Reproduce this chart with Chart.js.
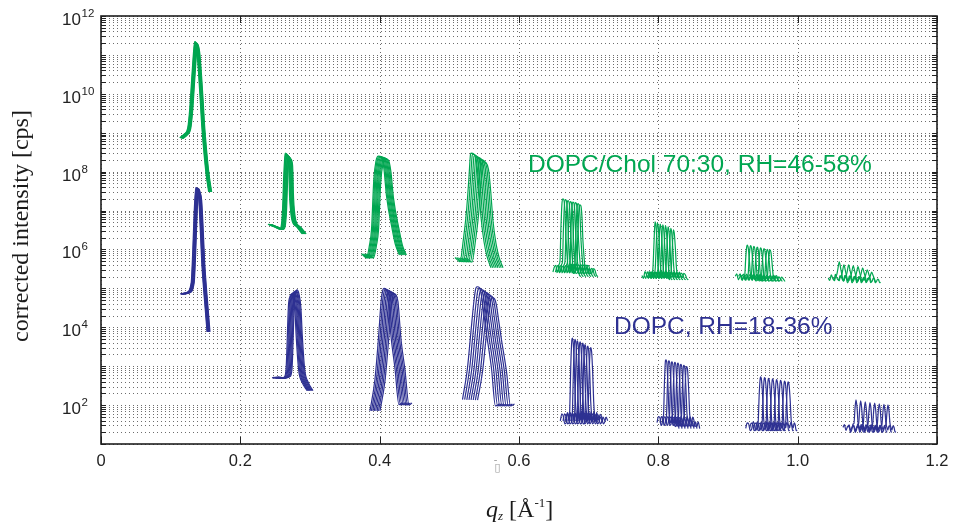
<!DOCTYPE html>
<html>
<head>
<meta charset="utf-8">
<script src="https://cdn.jsdelivr.net/npm/chart.js@4.4.1/dist/chart.umd.min.js"></script>
<style>
  html, body { margin: 0; padding: 0; background: #fff; }
  canvas { display: block; }
</style>
</head>
<body>
<canvas id="c" width="959" height="525"></canvas>
<script>
// Specular Bragg peaks, orders 1..8, one curve per humidity step.
// Each peak group: centre q of every curve, its peak intensity, and the
// line shape around the centre as [dq, intensity] pairs.

const xTickValues = [0, 0.2, 0.4, 0.6, 0.8, 1, 1.2];
const yLabelExponents = [2, 4, 6, 8, 10, 12];

// DOPC/Chol 70:30, RH = 46-58 %
const cholCenters = [
  [0.1345, 0.1351, 0.1357, 0.1363, 0.1369, 0.1375, 0.1381, 0.1387],
  [0.2644, 0.2652, 0.2660, 0.2668, 0.2677, 0.2685, 0.2693, 0.2701],
  [0.3983, 0.3997, 0.4011, 0.4026, 0.4040, 0.4054, 0.4069, 0.4083],
  [0.5311, 0.5335, 0.5360, 0.5385, 0.5409, 0.5434, 0.5458, 0.5483],
  [0.6631, 0.6667, 0.6703, 0.6739, 0.6775, 0.6811, 0.6847, 0.6875],
  [0.7952, 0.7985, 0.8024, 0.8062, 0.8100, 0.8138, 0.8177, 0.8215],
  [0.9277, 0.9325, 0.9372, 0.9420, 0.9469, 0.9517, 0.9564, 0.9603],
  [1.0597, 1.0664, 1.0732, 1.0798, 1.0866, 1.0933, 1.0999, 1.1062]
];
const cholTops = [
  [2.2e11, 2.2e11, 2.1e11, 2.1e11, 2.0e11, 2.0e11, 1.9e11, 1.9e11],
  [3.0e8, 2.95e8, 2.9e8, 2.8e8, 2.7e8, 2.6e8, 2.5e8, 2.4e8],
  [2.5e8, 2.45e8, 2.4e8, 2.35e8, 2.3e8, 2.25e8, 2.2e8, 2.1e8],
  [3.0e8, 2.8e8, 2.6e8, 2.4e8, 2.3e8, 2.1e8, 2.0e8, 1.8e8],
  [2.0e7, 1.9e7, 1.8e7, 1.7e7, 1.65e7, 1.6e7, 1.5e7, 1.4e7],
  [5.1e6, 4.8e6, 4.5e6, 4.3e6, 4.1e6, 3.8e6, 3.5e6, 3.2e6],
  [1.3e6, 1.25e6, 1.2e6, 1.15e6, 1.1e6, 1.05e6, 1.0e6, 9.7e5],
  [4.8e5, 4.0e5, 4.0e5, 3.8e5, 3.6e5, 3.35e5, 3.0e5, 2.6e5]
];
const cholShapes = [
  [[-0.0215,7.3e8],[-0.0144,9.3e8],[-0.0100,1.3e9],[-0.0072,3.8e9],[-0.0043,2.3e10],[-0.0014,1.3e11],[0,2.1e11],[0.0029,1.3e11],[0.0057,3.0e10],[0.0079,7.0e9],[0.0100,1.6e9],[0.0129,3.6e8],[0.0165,8.2e7],[0.0201,3.0e7]],
  [[-0.0248,4.4e6],[-0.0158,3.8e6],[-0.0080,3.3e6],[-0.0040,8.7e6],[-0.0023,6.1e7],[-0.0010,1.8e8],[0,2.85e8],[0.0022,2.5e8],[0.0049,1.7e8],[0.0063,2.3e7],[0.0096,5.7e6],[0.0158,3.9e6],[0.0244,2.5e6]],
  [[-0.0244,7.7e5],[-0.0172,6.1e5],[-0.0129,1.3e6],[-0.0100,3.2e6],[-0.0067,6.1e7],[-0.0036,1.8e8],[0,2.4e8],[0.0043,2.25e8],[0.0079,1.1e8],[0.0115,2.3e7],[0.0198,3.2e6],[0.0244,1.3e6],[0.0301,7.2e5]],
  [[-0.0230,6.1e5],[-0.0158,4.8e5],[-0.0108,1.8e6],[-0.0065,8.5e6],[-0.0029,6.1e7],[-0.0007,2.25e8],[0,2.4e8],[0.0043,2.25e8],[0.0079,1.5e8],[0.0108,4.5e7],[0.0144,6.0e6],[0.0187,1.5e6],[0.0230,6.5e5],[0.0287,3.4e5]],
  [[-0.0144,2.6e5],[-0.0122,3.5e5],[-0.0100,3.8e5],[-0.0086,2.5e5],[-0.0072,2.8e5],[-0.0057,4.0e5],[-0.0043,4.8e5],[-0.0029,3.2e6],[-0.0014,1.3e7],[0,1.66e7],[0.0014,1.55e7],[0.0029,7.8e6],[0.0043,1.8e6],[0.0065,4.8e5],[0.0079,2.8e5],[0.0086,3.0e5],[0.0108,4.0e5],[0.0129,3.8e5],[0.0150,2.4e5],[0.0172,2.5e5],[0.0194,3.3e5],[0.0215,3.0e5],[0.0236,2.2e5],[0.0258,2.0e5]],
  [[-0.0187,2.1e5],[-0.0165,1.8e5],[-0.0144,2.6e5],[-0.0122,2.2e5],[-0.0100,1.9e5],[-0.0086,2.6e5],[-0.0072,2.3e5],[-0.0057,1.8e5],[-0.0043,2.0e5],[-0.0029,3.2e5],[-0.0014,1.3e6],[0,4.0e6],[0.0014,3.2e6],[0.0029,1.3e6],[0.0043,4.0e5],[0.0057,2.3e5],[0.0072,2.0e5],[0.0086,2.7e5],[0.0108,2.2e5],[0.0129,1.9e5],[0.0150,2.5e5],[0.0172,2.3e5],[0.0194,1.8e5],[0.0215,1.65e5]],
  [[-0.0172,2.0e5],[-0.0150,2.3e5],[-0.0129,1.65e5],[-0.0108,1.9e5],[-0.0086,2.1e5],[-0.0072,1.6e5],[-0.0057,1.8e5],[-0.0036,2.2e5],[-0.0022,5.6e5],[-0.0007,1.05e6],[0,1.12e6],[0.0014,9.5e5],[0.0029,5.0e5],[0.0043,2.4e5],[0.0057,1.7e5],[0.0072,1.8e5],[0.0086,2.2e5],[0.0100,2.1e5],[0.0122,1.55e5],[0.0144,1.6e5],[0.0165,2.0e5],[0.0187,1.8e5],[0.0215,1.5e5]],
  [[-0.0158,1.74e5],[-0.0136,1.55e5],[-0.0115,2.0e5],[-0.0093,1.7e5],[-0.0072,1.6e5],[-0.0057,2.05e5],[-0.0043,1.9e5],[-0.0022,2.5e5],[0,3.6e5],[0.0022,2.6e5],[0.0043,1.86e5],[0.0057,1.5e5],[0.0072,1.6e5],[0.0086,1.95e5],[0.0100,1.8e5],[0.0115,1.4e5],[0.0129,1.45e5]]
];

// DOPC, RH = 18-36 %
const dopcCenters = [
  [0.1361, 0.1367, 0.1373, 0.1379, 0.1385, 0.1391, 0.1397, 0.1403],
  [0.2727, 0.2740, 0.2752, 0.2764, 0.2776, 0.2789, 0.2801, 0.2813],
  [0.4062, 0.4083, 0.4103, 0.4124, 0.4144, 0.4165, 0.4185, 0.4206],
  [0.5404, 0.5435, 0.5466, 0.5497, 0.5527, 0.5558, 0.5589, 0.5620],
  [0.6765, 0.6804, 0.6837, 0.6876, 0.6914, 0.6947, 0.6986, 0.7029],
  [0.8110, 0.8153, 0.8196, 0.8239, 0.8282, 0.8325, 0.8368, 0.8407],
  [0.9469, 0.9526, 0.9583, 0.9641, 0.9698, 0.9756, 0.9813, 0.9864],
  [1.0837, 1.0904, 1.0970, 1.1038, 1.1105, 1.1171, 1.1238, 1.1296]
];
const dopcTops = [
  [3.9e7, 3.9e7, 3.8e7, 3.8e7, 3.7e7, 3.7e7, 3.6e7, 3.6e7],
  [7.0e4, 7.3e4, 7.6e4, 7.9e4, 8.2e4, 8.5e4, 8.8e4, 9.1e4],
  [1.0e5, 9.6e4, 9.2e4, 8.8e4, 8.4e4, 8.0e4, 7.6e4, 7.2e4],
  [1.1e5, 1.0e5, 9.2e4, 8.5e4, 7.8e4, 7.1e4, 6.4e4, 5.7e4],
  [5.3e3, 4.9e3, 4.5e3, 4.2e3, 3.9e3, 3.6e3, 3.3e3, 3.0e3],
  [1.45e3, 1.38e3, 1.3e3, 1.25e3, 1.2e3, 1.12e3, 1.05e3, 9.7e2],
  [531, 510, 490, 470, 450, 430, 412, 395],
  [136, 128, 122, 116, 112, 108, 104, 101]
];
const dopcShapes = [
  [[-0.0224,7.2e4],[-0.0133,7.8e4],[-0.0066,1.4e5],[-0.0043,9.7e5],[-0.0022,1.0e7],[0,3.8e7],[0.0022,3.0e7],[0.0042,1.9e7],[0.0089,3.6e5],[0.0136,2.8e4],[0.0161,7.6e3]],
  [[-0.0273,521],[-0.0158,491],[-0.0100,531],[-0.0072,802],[-0.0036,4.2e4],[-0.0014,7.2e4],[0,8.1e4],[0.0029,6.4e4],[0.0057,2.8e4],[0.0076,5.8e3],[0.0111,802],[0.0158,394],[0.0230,236]],
  [[-0.0201,71],[-0.0129,444],[-0.0075,5.8e3],[-0.0040,4.1e4],[-0.0014,7.6e4],[0,8.1e4],[0.0029,7.6e4],[0.0057,5.0e4],[0.0098,5.8e3],[0.0158,802],[0.0215,101],[0.0258,114]],
  [[-0.0215,136],[-0.0144,802],[-0.0096,5.8e3],[-0.0047,4.1e4],[-0.0022,7.6e4],[0,8.1e4],[0.0029,7.6e4],[0.0057,5.0e4],[0.0086,2.1e4],[0.0129,5.8e3],[0.0201,802],[0.0258,95],[0.0316,107]],
  [[-0.0172,39],[-0.0150,58],[-0.0129,50],[-0.0107,33],[-0.0086,35],[-0.0072,62],[-0.0057,56],[-0.0043,40],[-0.0036,76],[-0.0022,800],[-0.0007,3.5e3],[0,4.0e3],[0.0014,3.0e3],[0.0029,800],[0.0043,135],[0.0057,56],[0.0072,38],[0.0086,68],[0.0100,45],[0.0115,42],[0.0136,60],[0.0158,52],[0.0180,33],[0.0201,37],[0.0222,50],[0.0244,40]],
  [[-0.0129,35],[-0.0108,50],[-0.0086,46],[-0.0072,30],[-0.0057,32],[-0.0043,48],[-0.0036,52],[-0.0022,355],[-0.0007,1.26e3],[0,1.3e3],[0.0014,1.0e3],[0.0029,280],[0.0043,63],[0.0057,40],[0.0072,35],[0.0086,52],[0.0100,45],[0.0122,30],[0.0144,28],[0.0165,38],[0.0187,25]],
  [[-0.0215,25],[-0.0194,34],[-0.0172,32],[-0.0150,22],[-0.0129,24],[-0.0108,36],[-0.0086,30],[-0.0072,22],[-0.0057,25],[-0.0036,35],[-0.0022,158],[-0.0007,417],[0,457],[0.0014,355],[0.0029,141],[0.0043,42],[0.0057,30],[0.0072,26],[0.0086,36],[0.0100,32],[0.0115,22],[0.0129,23]],
  [[-0.0187,26],[-0.0165,30],[-0.0144,22],[-0.0122,27],[-0.0100,28],[-0.0079,20],[-0.0057,24],[-0.0043,31],[-0.0029,32],[-0.0014,71],[0,112],[0.0014,79],[0.0029,35],[0.0043,27],[0.0057,23],[0.0072,30],[0.0086,28],[0.0100,21],[0.0115,20]]
];

const CHOL_COLOR = '#00a651';
const DOPC_COLOR = '#2e3192';

// Place one shape at a curve's centre; the part above the floor is
// raised or lowered (in log space) so the maximum lands on that curve's top.
function placeCurve(center, top, shape) {
  const lg = Math.log10;
  const vals = shape.map(p => p[1]);
  const floor = lg(Math.min(...vals));
  const ref = lg(Math.max(...vals));
  const lift = lg(top) - ref;
  return shape.map(([dq, v]) => {
    const w = (lg(v) - floor) / (ref - floor);
    return { x: center + dq, y: Math.pow(10, lg(v) + w * lift) };
  });
}

function seriesDatasets(centers, tops, shapes, color) {
  const out = [];
  centers.forEach((row, k) => {
    row.forEach((c, j) => {
      out.push({
        data: placeCurve(c, tops[k][j], shapes[k]),
        borderColor: color,
        borderWidth: 1.2,
        pointRadius: 0,
        fill: false,
        cubicInterpolationMode: 'monotone'
      });
    });
  });
  return out;
}

const datasets = [
  ...seriesDatasets(dopcCenters, dopcTops, dopcShapes, DOPC_COLOR),
  ...seriesDatasets(cholCenters, cholTops, cholShapes, CHOL_COLOR)
];

// Dotted grid, inward ticks, frame and all the annotation text.
const decor = {
  id: 'decor',
  beforeDatasetsDraw(chart) {
    const { ctx, chartArea: a, scales: { x, y } } = chart;
    ctx.save();
    ctx.strokeStyle = 'rgba(60,60,60,0.75)';
    ctx.lineWidth = 1;
    ctx.setLineDash([1, 3]);
    y.ticks.forEach(t => {
      const py = Math.round(y.getPixelForValue(t.value)) + 0.5;
      ctx.beginPath(); ctx.moveTo(a.left, py); ctx.lineTo(a.right, py); ctx.stroke();
    });
    x.ticks.forEach(t => {
      const px = Math.round(x.getPixelForValue(t.value)) + 0.5;
      ctx.beginPath(); ctx.moveTo(px, a.top); ctx.lineTo(px, a.bottom); ctx.stroke();
    });
    ctx.restore();
  },
  afterDraw(chart) {
    const { ctx, chartArea: a, scales: { x, y } } = chart;
    ctx.save();
    // inward tick marks
    ctx.strokeStyle = '#222';
    ctx.lineWidth = 1;
    y.ticks.forEach(t => {
      const py = Math.round(y.getPixelForValue(t.value)) + 0.5;
      ctx.beginPath();
      ctx.moveTo(a.left, py); ctx.lineTo(a.left + 5, py);
      ctx.moveTo(a.right, py); ctx.lineTo(a.right - 5, py);
      ctx.stroke();
    });
    x.ticks.forEach(t => {
      const px = Math.round(x.getPixelForValue(t.value)) + 0.5;
      ctx.beginPath();
      ctx.moveTo(px, a.bottom); ctx.lineTo(px, a.bottom - 7);
      ctx.moveTo(px, a.top); ctx.lineTo(px, a.top + 7);
      ctx.stroke();
    });
    // frame
    ctx.lineWidth = 1.6;
    ctx.strokeStyle = '#1e1e1e';
    ctx.strokeRect(a.left, a.top, a.right - a.left, a.bottom - a.top);

    // y tick labels 10^n
    ctx.fillStyle = '#222';
    ctx.textBaseline = 'alphabetic';
    yLabelExponents.forEach(e => {
      const py = y.getPixelForValue(Math.pow(10, e));
      ctx.font = '17px "Liberation Sans", Arial, sans-serif';
      ctx.textAlign = 'right';
      ctx.fillText('10', 81, py + 9);
      ctx.font = '11.5px "Liberation Sans", Arial, sans-serif';
      ctx.textAlign = 'left';
      ctx.fillText(String(e), 81.5, py + 1);
    });

    // stray glyph next to the 0.6 label
    ctx.fillStyle = '#9a9a9a';
    ctx.textAlign = 'center';
    ctx.font = '10px "DejaVu Sans", sans-serif';
    ctx.fillText('-', 495.5, 463);
    ctx.font = '11px "DejaVu Sans", sans-serif';
    ctx.fillText('\u25AF', 497.5, 471);

    // y axis title
    ctx.fillStyle = '#1a1a1a';
    ctx.save();
    ctx.translate(28, 226);
    ctx.rotate(-Math.PI / 2);
    ctx.textAlign = 'center';
    ctx.font = '24px "Liberation Serif", "Times New Roman", serif';
    ctx.fillText('corrected intensity [cps]', 0, 0);
    ctx.restore();

    // x axis title: q_z [Å^-1]
    let cx = 486;
    const base = 517;
    ctx.textAlign = 'left';
    const part = (txt, font, dy) => {
      ctx.font = font;
      ctx.fillText(txt, cx, base + dy);
      cx += ctx.measureText(txt).width;
    };
    part('q', 'italic 24px "Liberation Serif", serif', 0);
    part('z', 'italic 13px "Liberation Serif", serif', 3);
    part(' [\u00C5', '24px "Liberation Serif", serif', 0);
    part('-1', '13px "Liberation Serif", serif', -10);
    part(']', '24px "Liberation Serif", serif', 0);

    // series labels
    ctx.font = '24.5px "Liberation Sans", Arial, sans-serif';
    ctx.fillStyle = CHOL_COLOR;
    ctx.fillText('DOPC/Chol 70:30, RH=46-58%', x.getPixelForValue(0.6129), y.getPixelForValue(1e8));
    ctx.fillStyle = DOPC_COLOR;
    ctx.fillText('DOPC, RH=18-36%', x.getPixelForValue(0.7363), y.getPixelForValue(6.6e3));
    ctx.restore();
  }
};

Chart.defaults.font.family = '"Liberation Sans", Arial, sans-serif';

new Chart(document.getElementById('c'), {
  type: 'line',
  data: { datasets },
  options: {
    responsive: false,
    animation: false,
    devicePixelRatio: 1,
    layout: { padding: { top: 16, right: 22, left: 0, bottom: 0 } },
    plugins: { legend: { display: false }, tooltip: { enabled: false } },
    elements: { line: { tension: 0 } },
    scales: {
      x: {
        type: 'linear',
        min: 0,
        max: 1.2,
        afterBuildTicks: s => { s.ticks = xTickValues.map(v => ({ value: v })); },
        afterFit: s => { s.height = 81; },
        ticks: { padding: 8, color: '#222', font: { size: 16.5 }, maxRotation: 0, autoSkip: false },
        grid: { display: false, drawTicks: false },
        border: { display: false }
      },
      y: {
        type: 'logarithmic',
        min: 10,
        max: 1e12,
        afterBuildTicks: s => {
          const t = [];
          for (let e = 1; e < 12; e++) {
            for (let m = 1; m < 10; m++) t.push({ value: m * Math.pow(10, e) });
          }
          t.push({ value: 1e12 });
          s.ticks = t;
        },
        afterFit: s => { s.width = 101; },
        ticks: { display: false },
        grid: { display: false, drawTicks: false },
        border: { display: false }
      }
    }
  },
  plugins: [decor]
});
</script>
</body>
</html>
